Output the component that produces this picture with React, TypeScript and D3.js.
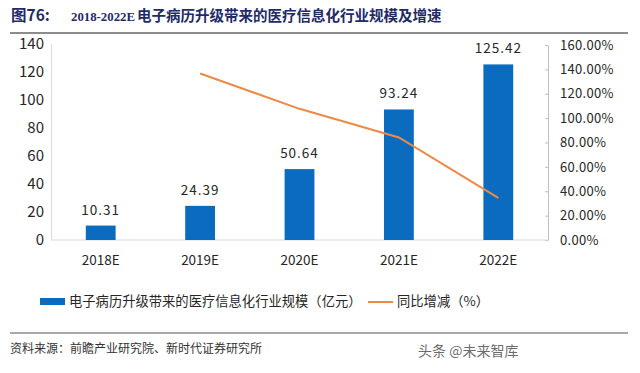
import { useEffect, useRef } from "react";
import * as d3 from "d3";

const categories = ["2018E", "2019E", "2020E", "2021E", "2022E"];
const marketSize = [10.31, 24.39, 50.64, 93.24, 125.42];
const growthYears = ["2019E", "2020E", "2021E", "2022E"];
const growthRate = [1.3657, 1.0763, 0.8412, 0.3451];
const leftTicks = [0, 20, 40, 60, 80, 100, 120, 140];
const rightTicks = [0, 0.2, 0.4, 0.6, 0.8, 1.0, 1.2, 1.4, 1.6];

const width = 640;
const height = 373;
const plot = { left: 51, right: 548, top: 44, bottom: 240 };
const barColor = "#0b6bbf";
const lineColor = "#ed8a45";
const cjk = "'Noto Sans CJK SC', 'Noto Sans', sans-serif";
const serif = "'Liberation Serif', 'DejaVu Serif', serif";

const App = () => {
  const svgRef = useRef<SVGSVGElement | null>(null);

  useEffect(() => {
    document.body.style.margin = "0";
    if (!svgRef.current) return;

    const svg = d3.select(svgRef.current);
    svg.selectAll("*").remove();
    svg.attr("width", width).attr("height", height).style("background", "#fff");

    const x = d3
      .scaleBand()
      .domain(categories)
      .range([plot.left, plot.right])
      .paddingInner(0.7)
      .paddingOuter(0.35);
    const yLeft = d3.scaleLinear().domain([0, 140]).range([plot.bottom, plot.top]);
    const yRight = d3.scaleLinear().domain([0, 1.6]).range([plot.bottom, plot.top + 1]);

    // title
    const title = svg
      .append("text")
      .attr("y", 21)
      .attr("fill", "#1f2b66")
      .attr("font-weight", 700)
      .attr("font-family", cjk);
    title.append("tspan").attr("x", 11).attr("font-size", 15.5).text("图76:");
    title
      .append("tspan")
      .attr("x", 71)
      .attr("font-family", serif)
      .attr("font-size", 12.8)
      .text("2018-2022E");
    title
      .append("tspan")
      .attr("x", 137)
      .attr("font-size", 14.5)
      .text("电子病历升级带来的医疗信息化行业规模及增速");

    svg
      .append("line")
      .attr("x1", 10)
      .attr("x2", 628)
      .attr("y1", 33)
      .attr("y2", 33)
      .attr("stroke", "#8c8c8c")
      .attr("stroke-width", 2);

    // left axis
    const leftAxis = svg
      .append("g")
      .attr("transform", `translate(${plot.left},0)`)
      .call(
        d3
          .axisLeft(yLeft)
          .tickValues(leftTicks)
          .tickSize(0)
          .tickPadding(7)
          .tickFormat((d) => String(d))
      );
    leftAxis.select(".domain").attr("stroke", "#d9d9d9");
    leftAxis
      .selectAll("text")
      .attr("font-family", cjk)
      .attr("font-size", 15)
      .attr("fill", "#262626");

    // right axis
    const rightAxis = svg
      .append("g")
      .attr("transform", `translate(${plot.right},0)`)
      .call(
        d3
          .axisRight(yRight)
          .tickValues(rightTicks)
          .tickSizeInner(-3)
          .tickSizeOuter(0)
          .tickPadding(12)
          .tickFormat((d) => `${(Number(d) * 100).toFixed(2)}%`)
      );
    rightAxis.select(".domain").attr("stroke", "#bfbfbf");
    rightAxis.selectAll("line").attr("stroke", "#bfbfbf");
    rightAxis
      .selectAll("text")
      .attr("font-family", cjk)
      .attr("font-size", 13)
      .attr("letter-spacing", 0.3)
      .attr("fill", "#262626");

    // baseline
    svg
      .append("line")
      .attr("x1", plot.left)
      .attr("x2", plot.right)
      .attr("y1", plot.bottom)
      .attr("y2", plot.bottom)
      .attr("stroke", "#d9d9d9");

    // bars
    svg
      .append("g")
      .selectAll("rect")
      .data(marketSize)
      .join("rect")
      .attr("x", (_, i) => x(categories[i]) ?? 0)
      .attr("width", x.bandwidth())
      .attr("y", (d) => yLeft(d))
      .attr("height", (d) => plot.bottom - yLeft(d))
      .attr("fill", barColor);

    svg
      .append("g")
      .selectAll("text")
      .data(marketSize)
      .join("text")
      .attr("x", (_, i) => (x(categories[i]) ?? 0) + x.bandwidth() / 2)
      .attr("y", (d) => yLeft(d) - 11)
      .attr("text-anchor", "middle")
      .attr("font-family", cjk)
      .attr("font-size", 13.5)
      .attr("letter-spacing", 1)
      .attr("fill", "#262626")
      .text((d) => d.toFixed(2));

    // category labels
    svg
      .append("g")
      .selectAll("text")
      .data(categories)
      .join("text")
      .attr("x", (d) => (x(d) ?? 0) + x.bandwidth() / 2)
      .attr("y", 265)
      .attr("text-anchor", "middle")
      .attr("font-family", cjk)
      .attr("font-size", 13.5)
      .attr("fill", "#262626")
      .text((d) => d);

    // growth line
    const line = d3
      .line<number>()
      .x((_, i) => (x(growthYears[i]) ?? 0) + x.bandwidth() / 2)
      .y((d) => yRight(d));
    svg
      .append("path")
      .datum(growthRate)
      .attr("d", line)
      .attr("fill", "none")
      .attr("stroke", lineColor)
      .attr("stroke-width", 2);

    // legend
    const legend = svg
      .append("g")
      .attr("font-family", cjk)
      .attr("font-size", 13.3)
      .attr("fill", "#262626");
    legend.append("rect").attr("x", 40).attr("y", 298).attr("width", 25).attr("height", 7).attr("fill", barColor);
    legend
      .append("text")
      .attr("x", 69)
      .attr("y", 306)
      .text("电子病历升级带来的医疗信息化行业规模（亿元）");
    legend
      .append("line")
      .attr("x1", 368)
      .attr("x2", 393)
      .attr("y1", 302)
      .attr("y2", 302)
      .attr("stroke", lineColor)
      .attr("stroke-width", 2);
    legend.append("text").attr("x", 397).attr("y", 306).text("同比增减（%）");

    // footer
    svg
      .append("line")
      .attr("x1", 10)
      .attr("x2", 628)
      .attr("y1", 333)
      .attr("y2", 333)
      .attr("stroke", "#8c8c8c")
      .attr("stroke-width", 1.5);
    svg
      .append("text")
      .attr("x", 10)
      .attr("y", 353)
      .attr("font-family", cjk)
      .attr("font-size", 12)
      .attr("fill", "#333")
      .text("资料来源：前瞻产业研究院、新时代证券研究所");
    svg
      .append("text")
      .attr("x", 418)
      .attr("y", 356)
      .attr("font-family", cjk)
      .attr("font-size", 14)
      .attr("fill", "#3a3a3a")
      .attr("opacity", 0.75)
      .text("头条 @未来智库");
  }, []);

  return <svg ref={svgRef} />;
};

export default App;
